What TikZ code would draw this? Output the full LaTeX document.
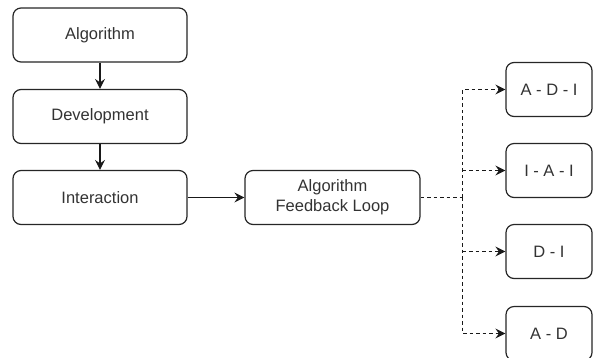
\documentclass[tikz,border=0pt]{standalone}
\usepackage{fontspec}
\setmainfont{Liberation Sans}
\usetikzlibrary{arrows.meta}
\begin{document}
\begin{tikzpicture}[x=1pt,y=-1pt,
  box/.style={draw=black!85, line width=1.2pt, rounded corners=8pt, fill=white,
    minimum height=54pt, inner sep=0pt, align=center,
    font=\fontsize{16.5}{20}\selectfont, text=black!80},
  leftbox/.style={box, minimum width=174pt},
  sidebox/.style={box, minimum width=86pt},
  wire/.style={line width=1.2pt, draw=black!90},
  link/.style={wire, -{Stealth[length=10pt,width=10pt,inset=3.5pt]}},
  dashes/.style={dash pattern=on 3.5pt off 3pt}
]
\useasboundingbox (0,0) rectangle (593,357);
\node[leftbox] (alg) at (100,35) {Algorithm};
\node[leftbox] (dev) at (100,116.5) {Development};
\node[leftbox] (int) at (100,197.5) {Interaction};
\node[box, minimum width=175pt] (fb) at (332.5,197.5) {Algorithm\\Feedback Loop};
\node[sidebox] (r1) at (549,89.5) {A - D - I};
\node[sidebox] (r2) at (549,170.5) {I - A - I};
\node[sidebox] (r3) at (549,251.5) {D - I};
\node[sidebox] (r4) at (549,333.5) {A - D};
% branching point of the dashed fan-out
\coordinate (j) at (462.5,197.5);
\draw[link] (alg) -- (dev);
\draw[link] (dev) -- (int);
\draw[link] (int) -- (fb);
\draw[wire, dashes] (fb.east) -- (j);
\draw[link, dashes] (j) |- (r1);
\draw[link, dashes] (j) |- (r4);
\draw[link, dashes] (j |- r2) -- (r2);
\draw[link, dashes] (j |- r3) -- (r3);
\end{tikzpicture}
\end{document}
